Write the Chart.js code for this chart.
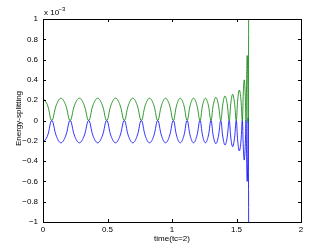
<!DOCTYPE html>
<html>
<head>
<meta charset="utf-8">
<script src="https://cdn.jsdelivr.net/npm/chart.js@4/dist/chart.umd.min.js"></script>
<style>
  body { margin: 0; background: #fff; }
  #wrap { width: 332px; height: 250px; }
</style>
</head>
<body>
<div id="wrap"><canvas id="chart" width="332" height="250"></canvas></div>
<script>
// time axis: peak, half-way, trough, half-way ...
const times = [
  0, 0.034, 0.068, 0.104,
  0.139, 0.175, 0.210, 0.246,
  0.282, 0.318, 0.354, 0.389,
  0.424, 0.459, 0.494, 0.528,
  0.562, 0.596, 0.630, 0.663,
  0.696, 0.729, 0.762, 0.794,
  0.826, 0.858, 0.889, 0.920,
  0.950, 0.980, 1.010, 1.037,
  1.064, 1.091, 1.117, 1.142,
  1.167, 1.192, 1.217, 1.238,
  1.259, 1.281, 1.302, 1.321,
  1.340, 1.359, 1.378, 1.395,
  1.411, 1.427, 1.443, 1.457,
  1.470, 1.484, 1.498, 1.510,
  1.522, 1.534, 1.545, 1.553,
  1.560, 1.567, 1.574, 1.579,
  1.583, 1.587, 1.591, 1.598
]
// upper branch (green), units of 1e-3
const upperSplit = [
  0.22, 0.155, 0, 0.155,
  0.22, 0.155, 0, 0.155,
  0.22, 0.155, 0, 0.155,
  0.22, 0.155, 0, 0.155,
  0.22, 0.155, 0, 0.155,
  0.22, 0.155, 0, 0.155,
  0.22, 0.155, 0, 0.155,
  0.22, 0.155, 0, 0.155,
  0.22, 0.155, 0, 0.155,
  0.22, 0.155, 0, 0.155,
  0.22, 0.155, 0, 0.16,
  0.228, 0.16, 0, 0.17,
  0.241, 0.17, 0, 0.18,
  0.258, 0.18, 0, 0.21,
  0.30, 0.21, 0, 0.28,
  0.40, 0.28, 0, 0.45,
  0.64, 0.45, 0, 3.0
]
// lower branch (blue)
const lowerSplit = [
  -0.22, -0.155, 0, -0.155,
  -0.22, -0.155, 0, -0.155,
  -0.22, -0.155, 0, -0.155,
  -0.22, -0.155, 0, -0.155,
  -0.22, -0.155, 0, -0.155,
  -0.22, -0.155, 0, -0.155,
  -0.22, -0.155, 0, -0.155,
  -0.22, -0.155, 0, -0.155,
  -0.22, -0.155, 0, -0.155,
  -0.22, -0.155, 0, -0.155,
  -0.22, -0.155, 0, -0.16,
  -0.228, -0.16, 0, -0.17,
  -0.241, -0.17, 0, -0.18,
  -0.258, -0.18, 0, -0.21,
  -0.30, -0.21, 0, -0.27,
  -0.39, -0.27, 0, -0.42,
  -0.60, -0.42, 0, -3.0
]
const xTicks = [0, 0.5, 1, 1.5, 2]
const yTicks = [-1, -0.8, -0.6, -0.4, -0.2, 0, 0.2, 0.4, 0.6, 0.8, 1]
const yTickLabels = ['\u22121', '\u22120.8', '\u22120.6', '\u22120.4', '\u22120.2', '0', '0.2', '0.4', '0.6', '0.8', '1']
const xTickLabels = ['0', '0.5', '1', '1.5', '2']

const FONT = 'Liberation Sans, Arial, sans-serif'

const toPoints = (ys) => times.map((t, i) => ({ x: t, y: ys[i] }))

// box, inward ticks on all sides, titles and the exponent note
const matlabAxes = {
  id: 'matlabAxes',
  beforeDraw(chart) {
    const ctx = chart.ctx
    ctx.save()
    ctx.fillStyle = '#fff'
    ctx.fillRect(0, 0, chart.width, chart.height)
    ctx.restore()
  },
  afterDraw(chart) {
    const { ctx, chartArea: a } = chart
    const xs = chart.scales.x
    const ys = chart.scales.y
    const tick = 3
    ctx.save()
    ctx.strokeStyle = '#000'
    ctx.lineWidth = 1
    ctx.strokeRect(Math.round(a.left) + 0.5, Math.round(a.top) + 0.5,
      Math.round(a.right - a.left), Math.round(a.bottom - a.top))
    ctx.beginPath()
    xTicks.forEach(v => {
      const px = Math.round(xs.getPixelForValue(v)) + 0.5
      ctx.moveTo(px, a.bottom); ctx.lineTo(px, a.bottom - tick)
      ctx.moveTo(px, a.top); ctx.lineTo(px, a.top + tick)
    })
    yTicks.forEach(v => {
      const py = Math.round(ys.getPixelForValue(v)) + 0.5
      ctx.moveTo(a.left, py); ctx.lineTo(a.left + tick, py)
      ctx.moveTo(a.right, py); ctx.lineTo(a.right - tick, py)
    })
    ctx.stroke()

    ctx.fillStyle = '#000'
    ctx.font = '8px ' + FONT
    ctx.textAlign = 'center'
    ctx.textBaseline = 'middle'
    ctx.fillText('time(tc=2)', (a.left + a.right) / 2, 239)

    ctx.save()
    ctx.translate(19, (a.top + a.bottom) / 2 - 2)
    ctx.rotate(-Math.PI / 2)
    ctx.fillText('Energy-splitting', 0, 0)
    ctx.restore()

    ctx.textAlign = 'left'
    ctx.textBaseline = 'alphabetic'
    ctx.fillText('x 10', 44, 15)
    ctx.font = '6px ' + FONT
    ctx.fillText('\u22123', 58.5, 10.5)
    ctx.restore()
  }
}

new Chart(document.getElementById('chart'), {
  type: 'line',
  data: {
    datasets: [
      {
        label: 'upper',
        data: toPoints(upperSplit),
        borderColor: '#008000',
        borderWidth: 0.8,
        pointRadius: 0,
        tension: 0.4,
        fill: false
      },
      {
        label: 'lower',
        data: toPoints(lowerSplit),
        borderColor: '#0000ff',
        borderWidth: 0.8,
        pointRadius: 0,
        tension: 0.4,
        fill: false
      }
    ]
  },
  options: {
    responsive: false,
    animation: false,
    layout: { padding: { top: 19, right: 31, left: 0, bottom: 0 } },
    plugins: {
      legend: { display: false },
      tooltip: { enabled: false }
    },
    scales: {
      x: {
        type: 'linear',
        min: 0,
        max: 2,
        afterBuildTicks: s => { s.ticks = xTicks.map(v => ({ value: v })) },
        afterFit: s => { s.height = 28 },
        ticks: {
          color: '#000',
          font: { family: FONT, size: 8 },
          padding: 3,
          maxRotation: 0,
          autoSkip: false,
          callback: (v, i) => xTickLabels[i]
        },
        grid: { display: false, drawTicks: false },
        border: { display: false }
      },
      y: {
        type: 'linear',
        min: -1,
        max: 1,
        afterBuildTicks: s => { s.ticks = yTicks.map(v => ({ value: v })) },
        afterFit: s => { s.width = 43 },
        ticks: {
          color: '#000',
          font: { family: FONT, size: 8 },
          padding: 5,
          autoSkip: false,
          callback: (v, i) => yTickLabels[i]
        },
        grid: { display: false, drawTicks: false },
        border: { display: false }
      }
    }
  },
  plugins: [matlabAxes]
})
</script>
</body>
</html>
